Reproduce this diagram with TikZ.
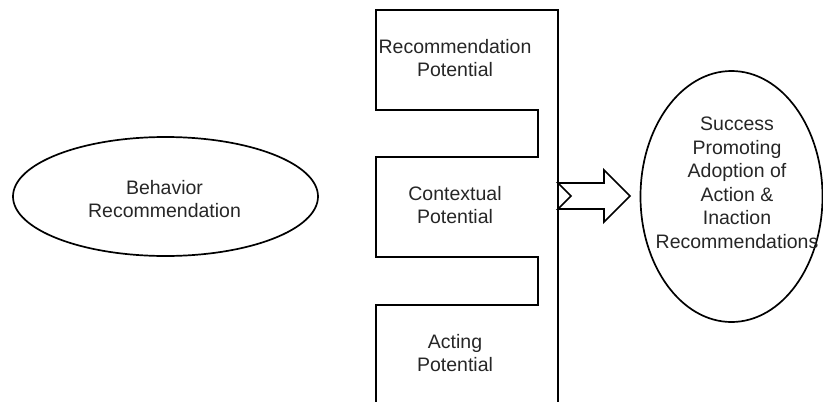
\documentclass[tikz,border=0pt]{standalone}
\usepackage{fontspec}
\setmainfont{Liberation Sans}
\begin{document}
\begin{tikzpicture}[x=1pt,y=-1pt,
  outl/.style={draw=black,line width=1.7pt,line join=miter},
  lbl/.style={align=center,inner sep=0pt,font=\fontsize{19.5}{23.5}\selectfont,text=black!85}]
\useasboundingbox (0,0) rectangle (823,402);
% left ellipse
\draw[outl] (165.5,196.5) ellipse [x radius=152.5,y radius=59.5];
\node[lbl] (beh) at (164.5,199) {Behavior\\Recommendation};
% right ellipse
\draw[outl] (731.5,196.5) ellipse [x radius=91,y radius=125.5];
\node[lbl] (succ) at (737,183) {Success\\Promoting\\Adoption of\\Action \&\\Inaction\\Recommendations};
% comb block
\draw[outl] (376,402) -- (376,305) -- (538,305) -- (538,257) -- (376,257) -- (376,157)
  -- (538,157) -- (538,110) -- (376,110) -- (376,10) -- (558,10) -- (558,402);
\node[lbl] (rec) at (455,58) {Recommendation\\Potential};
\node[lbl] (ctx) at (455,205) {Contextual\\Potential};
\node[lbl] (act) at (455,353) {Acting\\Potential};
% notched block arrow
\draw[outl] (558,183) -- (604,183) -- (604,170) -- (630,196) -- (604,222) -- (604,209)
  -- (558,209) -- (571,196) -- cycle;
\end{tikzpicture}
\end{document}
